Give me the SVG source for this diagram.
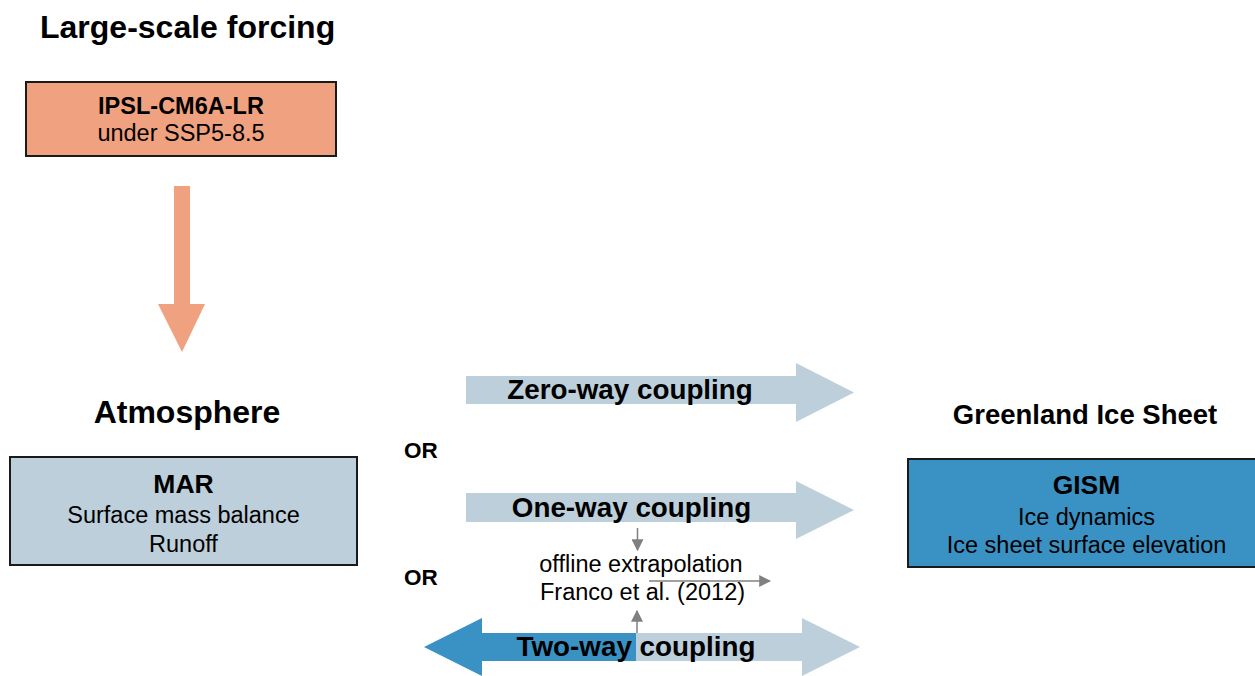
<svg xmlns="http://www.w3.org/2000/svg" width="1255" height="676" viewBox="0 0 1255 676">
  <defs>
    <style>
      text { font-family: "Liberation Sans", Arial, sans-serif; fill: #000; }
      .head { font-weight: bold; font-size: 32px; }
      .head2 { font-weight: bold; font-size: 27.5px; }
      .bold { font-weight: bold; font-size: 23.5px; }
      .name { font-weight: bold; font-size: 26.5px; }
      .reg { font-size: 23.5px; }
      .arrowlbl { font-weight: bold; font-size: 27.8px; }
      .or { font-weight: bold; font-size: 22.5px; }
      .box { stroke: #1a1a1a; stroke-width: 2; }
      .light { fill: #BCCFDA; }
      .dark { fill: #3A92C4; }
      .salmon { fill: #F0A17F; }
      .thin { stroke: #808080; stroke-width: 1.5; fill: none; }
    </style>
    <marker id="tri" viewBox="0 0 10 10" refX="9" refY="5" markerWidth="12" markerHeight="12" orient="auto" markerUnits="userSpaceOnUse">
      <path d="M0,0 L10,5 L0,10 Z" fill="#808080"/>
    </marker>
  </defs>

  <rect width="1255" height="676" fill="#fff"/>

  <!-- Forcing -->
  <g id="forcing">
    <text class="head" x="40" y="38">Large-scale forcing</text>
    <rect class="box salmon" x="26" y="82" width="310" height="74"/>
    <text class="bold" x="181" y="114" text-anchor="middle">IPSL-CM6A-LR</text>
    <text class="reg" x="181" y="141" text-anchor="middle">under SSP5-8.5</text>
  </g>

  <!-- Atmosphere -->
  <g id="atmosphere">
    <text class="head" x="187" y="423" text-anchor="middle">Atmosphere</text>
    <rect class="box light" x="10" y="457" width="347" height="108"/>
    <text class="name" x="183.5" y="493" text-anchor="middle">MAR</text>
    <text class="reg" x="183.5" y="523" text-anchor="middle">Surface mass balance</text>
    <text class="reg" x="183.5" y="552" text-anchor="middle">Runoff</text>
  </g>

  <!-- Ice sheet -->
  <g id="icesheet">
    <text class="head2" x="1085" y="424" text-anchor="middle">Greenland Ice Sheet</text>
    <rect class="box dark" x="908" y="459" width="360" height="108"/>
    <text class="name" x="1086.5" y="494" text-anchor="middle">GISM</text>
    <text class="reg" x="1086.5" y="525" text-anchor="middle">Ice dynamics</text>
    <text class="reg" x="1086.5" y="553" text-anchor="middle">Ice sheet surface elevation</text>
  </g>

  <!-- Connectors -->
  <g id="connectors">
    <polygon class="salmon" points="174,186 190,186 190,304 205,304 182,352 158,304 174,304"/>

    <polygon class="light" points="466,376 796,376 796,363 854,392.5 796,422 796,404 466,404"/>
    <polygon class="light" points="466,493 796,493 796,481 854,510 796,539 796,522 466,522"/>

    <polygon class="dark" points="424,647 482,618 482,633 636,633 636,661 482,661 482,676"/>
    <polygon class="light" points="636,633 802,633 802,618 860,647 802,676 802,661 636,661"/>

    <line class="thin" x1="637.5" y1="528" x2="637.5" y2="550" marker-end="url(#tri)"/>
    <line class="thin" x1="637" y1="633" x2="637" y2="611" marker-end="url(#tri)"/>
    <line class="thin" x1="649" y1="581" x2="770" y2="581" marker-end="url(#tri)"/>
  </g>

  <!-- Coupling labels -->
  <g id="labels">
    <text class="arrowlbl" x="630" y="399" text-anchor="middle">Zero-way coupling</text>
    <text class="arrowlbl" x="631.5" y="517" text-anchor="middle">One-way coupling</text>
    <text class="arrowlbl" x="636" y="656" text-anchor="middle">Two-way coupling</text>
    <text class="reg" x="641" y="572" text-anchor="middle">offline extrapolation</text>
    <text class="reg" x="642.5" y="600" text-anchor="middle">Franco et al. (2012)</text>
    <text class="or" x="404" y="458">OR</text>
    <text class="or" x="404" y="585">OR</text>
  </g>
</svg>
